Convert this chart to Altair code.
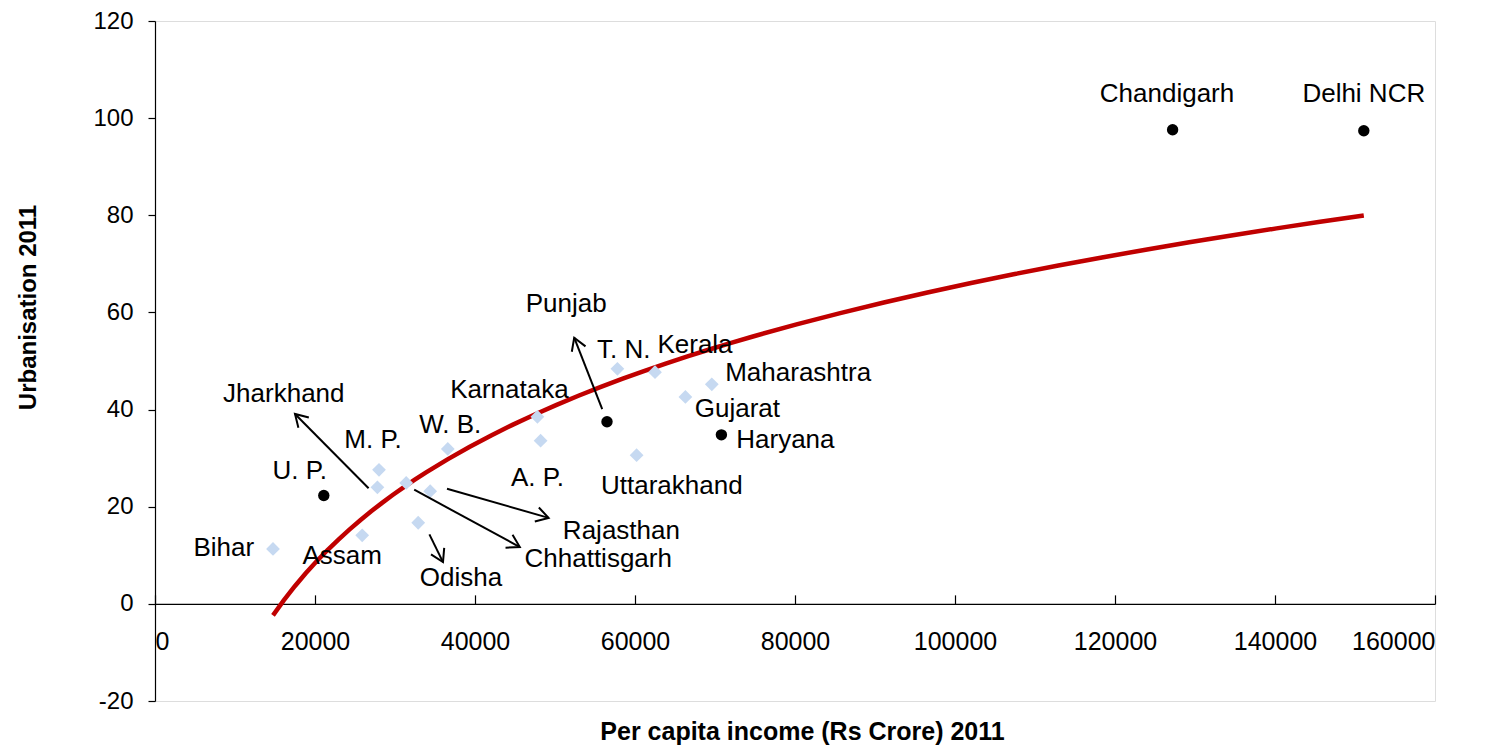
import math
import altair as alt
import pandas as pd

# ---------------- data ----------------
states = ["Bihar", "Assam", "U. P.", "M. P.", "Jharkhand", "Rajasthan", "Chhattisgarh",
          "Odisha", "W. B.", "Karnataka", "A. P.", "Punjab", "T. N.", "Kerala",
          "Gujarat", "Maharashtra", "Haryana", "Uttarakhand", "Chandigarh", "Delhi NCR"]
income = [14750, 25900, 21100, 28000, 27800, 31400, 34400,
          32900, 36600, 47800, 48200, 56500, 57800, 62500,
          66300, 69600, 70800, 60200, 127200, 151100]
urban = [11.3, 14.1, 22.3, 27.6, 24.0, 24.9, 23.2,
         16.7, 31.9, 38.5, 33.6, 37.5, 48.4, 47.7,
         42.6, 45.2, 34.8, 30.6, 97.6, 97.4]
series = ["other", "other", "highlight", "other", "other", "other", "other",
          "other", "other", "other", "other", "highlight", "other", "other",
          "other", "other", "highlight", "other", "highlight", "highlight"]

# annotation anchors (data units)
label_income = [8600, 23400, 18100, 27250, 16100, 58300, 55400,
                38250, 36900, 44300, 47800, 51400, 58600, 67500,
                72800, 80400, 78800, 64600, 126500, 151100]
label_urban = [11.4, 9.8, 27.4, 33.8, 43.2, 15.1, 9.2,
               5.3, 36.9, 44.1, 26.0, 61.7, 52.3, 53.3,
               40.1, 47.5, 33.8, 24.3, 105.0, 105.0]

arrow_names = ["Jharkhand", "Odisha", "Punjab", "Rajasthan", "Chhattisgarh"]
arrow_x1 = [26700, 34300, 55900, 36500, 32400]
arrow_y1 = [23.8, 14.3, 40.1, 23.7, 23.5]
arrow_x2 = [17500, 36000, 52400, 49200, 45600]
arrow_y2 = [39.1, 8.6, 54.8, 17.7, 11.7]

# ---------------- layout ----------------
W, H = 1280, 680
X_DOM = [0, 160000]
Y_DOM = [-20, 120]
zero_px = (Y_DOM[1] - 0) / (Y_DOM[1] - Y_DOM[0]) * H


def to_px(x, y):
    return (x - X_DOM[0]) / (X_DOM[1] - X_DOM[0]) * W, (Y_DOM[1] - y) / (Y_DOM[1] - Y_DOM[0]) * H


angles = []
for a, b, c, d in zip(arrow_x1, arrow_y1, arrow_x2, arrow_y2):
    p1 = to_px(a, b)
    p2 = to_px(c, d)
    angles.append(math.degrees(math.atan2(p2[1] - p1[1], p2[0] - p1[0])) % 360)

pts = pd.DataFrame({"state": states, "income": income, "urban": urban, "series": series})
lab = pd.DataFrame({"state": states, "lx": label_income, "ly": label_urban})
arr = pd.DataFrame({"name": arrow_names, "x1": arrow_x1, "y1": arrow_y1,
                    "x2": arrow_x2, "y2": arrow_y2, "ang": angles})

xs = alt.Scale(domain=X_DOM, nice=False, zero=False)
ys = alt.Scale(domain=Y_DOM, nice=False, zero=False)
FONT = "Liberation Sans"

# trendline (log regression) carrying the tick/domain axis at y=0
trend = alt.Chart(pts).transform_regression(
    "income", "urban", method="log"
).mark_line(color="#C00000", strokeWidth=4.5).encode(
    x=alt.X("income:Q", scale=xs, axis=alt.Axis(
        orient="top", offset=-zero_px, labels=False, title=None, grid=False,
        values=list(range(0, 160001, 20000)), tickSize=9, tickColor="black",
        domainColor="black", domainWidth=1.2, tickWidth=1.2)),
    y=alt.Y("urban:Q", scale=ys, axis=None),
)

points = alt.Chart(pts).mark_point(filled=True, opacity=1).encode(
    x=alt.X("income:Q", scale=xs, axis=alt.Axis(
        orient="bottom", offset=zero_px - H, ticks=False, tickSize=0, domain=False,
        grid=False, values=list(range(0, 160001, 20000)), labelExpr="'' + datum.value",
        labelPadding=26, labelFontSize=25, labelColor="black", labelFont=FONT,
        title="Per capita income (Rs Crore) 2011", titleFontSize=25,
        titleFont=FONT, titleFontWeight="bold", titleColor="black",
        titleX=647, titleY=128, titleBaseline="middle", titleAnchor="middle",
        titleAlign="center")),
    y=alt.Y("urban:Q", scale=ys, axis=alt.Axis(
        values=list(range(-20, 121, 20)), grid=False, tickSize=7, tickColor="black",
        tickWidth=1.2, domainColor="black", domainWidth=1.2,
        labelExpr="'' + datum.value",
        labelPadding=15, labelFontSize=24, labelColor="black", labelFont=FONT,
        title="Urbanisation 2011", titleFontSize=24, titleFont=FONT,
        titleFontWeight="bold", titleColor="black", titleX=-127, titleY=286,
        titleAngle=270, titleAlign="center", titleBaseline="middle")),
    shape=alt.Shape("series:N", scale=alt.Scale(domain=["other", "highlight"],
                                                 range=["diamond", "circle"]), legend=None),
    color=alt.Color("series:N", scale=alt.Scale(domain=["other", "highlight"],
                                                 range=["#C6D9F1", "#000000"]), legend=None),
    size=alt.Size("series:N", scale=alt.Scale(domain=["other", "highlight"],
                                               range=[190, 130]), legend=None),
)

labels = alt.Chart(lab).mark_text(fontSize=26, font=FONT, color="black",
                                  align="center", baseline="middle").encode(
    x=alt.X("lx:Q", scale=xs, axis=None),
    y=alt.Y("ly:Q", scale=ys, axis=None),
    text="state:N",
)

shafts = alt.Chart(arr).mark_rule(color="black", strokeWidth=2).encode(
    x=alt.X("x1:Q", scale=xs, axis=None),
    y=alt.Y("y1:Q", scale=ys, axis=None),
    x2="x2:Q",
    y2="y2:Q",
)

heads = alt.Chart(arr).mark_point(
    shape="M-1,-0.6L0,0L-1,0.6", filled=False, stroke="black", strokeWidth=2,
    size=600, opacity=1).encode(
    x=alt.X("x2:Q", scale=xs, axis=None),
    y=alt.Y("y2:Q", scale=ys, axis=None),
    angle=alt.Angle("ang:Q", scale=None),
)

chart = alt.layer(trend, points, labels, shafts, heads).resolve_axis(
    x="independent", y="independent"
).properties(
    width=W, height=H,
    autosize=alt.AutoSizeParams(type="none"),
    padding={"left": 147, "top": 13, "right": 42, "bottom": 49},
).configure_view(stroke=None).configure(font=FONT)

chart.save("out.html", embed_options={"renderer": "svg", "actions": False})
